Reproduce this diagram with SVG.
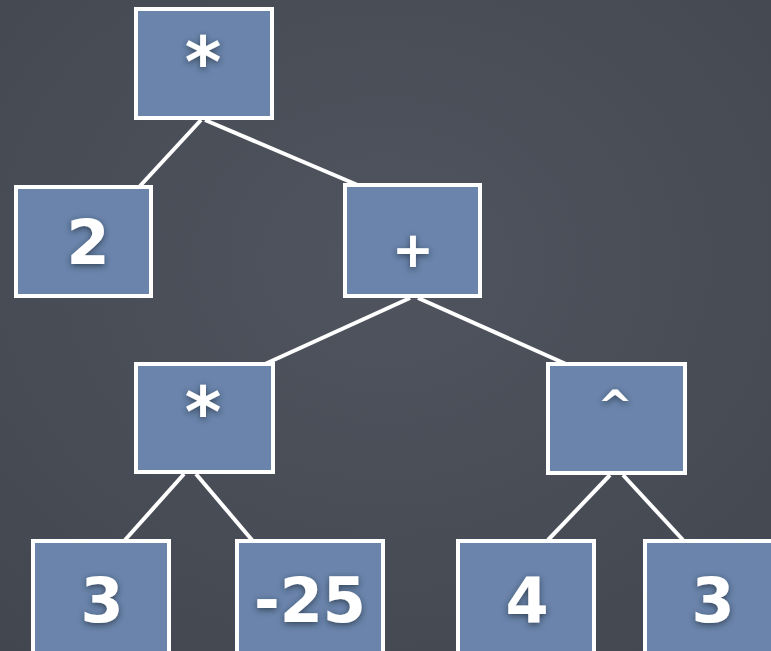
<svg xmlns="http://www.w3.org/2000/svg" width="771" height="651" viewBox="0 0 771 651">
<defs>
<radialGradient id="bg" cx="0.5" cy="0.4" r="0.8">
<stop offset="0" stop-color="#4f545e"/>
<stop offset="1" stop-color="#42464f"/>
</radialGradient>
<filter id="sh" x="-50%" y="-50%" width="200%" height="200%">
<feDropShadow dx="0" dy="2" stdDeviation="3" flood-color="#1e2836" flood-opacity="0.7"/>
</filter>
</defs>
<style>
.box{fill:#6b84ab;stroke:#ffffff;stroke-width:4}
.lbl{fill:#ffffff;font-family:"DejaVu Sans",sans-serif;font-weight:bold;font-size:62px;text-anchor:middle;filter:url(#sh)}
.edge{stroke:#ffffff;stroke-width:4;fill:none}
</style>
<rect width="771" height="651" fill="url(#bg)"/>
<g id="connectors">
<line class="edge" x1="201" y1="120" x2="140" y2="186"/>
<line class="edge" x1="205" y1="120" x2="360" y2="186"/>
<line class="edge" x1="410" y1="298" x2="265" y2="364"/>
<line class="edge" x1="418" y1="298" x2="566" y2="364"/>
<line class="edge" x1="184" y1="474" x2="125" y2="540"/>
<line class="edge" x1="196" y1="474" x2="252" y2="540"/>
<line class="edge" x1="610" y1="475" x2="548" y2="540"/>
<line class="edge" x1="623" y1="475" x2="683" y2="540"/>
</g>
<g id="n-root"><rect class="box" x="136" y="9" width="136" height="109"/><text class="lbl" x="203" y="86" style="font-size:70px">*</text></g>
<g id="n-2"><rect class="box" x="16" y="187" width="135" height="109"/><text class="lbl" x="88" y="264">2</text></g>
<g id="n-plus"><rect class="box" x="345" y="185" width="135" height="111"/><text class="lbl" x="413" y="267" style="font-size:50px">+</text></g>
<g id="n-mul"><rect class="box" x="136" y="364" width="137" height="108"/><text class="lbl" x="203" y="436" style="font-size:70px">*</text></g>
<g id="n-pow"><rect class="box" x="548" y="364" width="137" height="109"/><text class="lbl" x="615" y="421" style="font-size:42px">^</text></g>
<g id="n-3a"><rect class="box" x="33" y="541" width="136" height="120"/><text class="lbl" x="102" y="622">3</text></g>
<g id="n-m25"><rect class="box" x="237" y="541" width="146" height="120"/><text class="lbl" x="310" y="622">-25</text></g>
<g id="n-4"><rect class="box" x="458" y="541" width="136" height="120"/><text class="lbl" x="527" y="622">4</text></g>
<g id="n-3b"><rect class="box" x="645" y="541" width="136" height="120"/><text class="lbl" x="713" y="622">3</text></g>
</svg>
